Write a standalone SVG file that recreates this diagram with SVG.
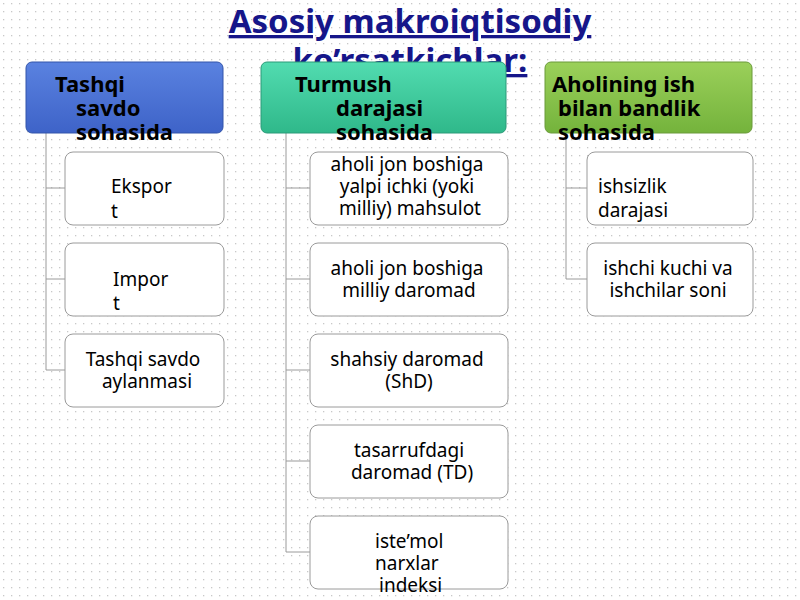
<svg xmlns="http://www.w3.org/2000/svg" width="800" height="600" viewBox="0 0 800 600">
<defs>
<pattern id="dots" width="8" height="8" patternUnits="userSpaceOnUse"><rect x="3" y="3" width="1.3" height="1.3" fill="#c8c8c8"/></pattern>
<linearGradient id="gb" x1="0" y1="0" x2="0" y2="1"><stop offset="0" stop-color="#5a82e0"/><stop offset="1" stop-color="#3e63c8"/></linearGradient>
<linearGradient id="gg" x1="0" y1="0" x2="0" y2="1"><stop offset="0" stop-color="#52dcb0"/><stop offset="1" stop-color="#2fb88a"/></linearGradient>
<linearGradient id="gl" x1="0" y1="0" x2="0" y2="1"><stop offset="0" stop-color="#9bd05a"/><stop offset="1" stop-color="#74b33c"/></linearGradient>
<style>
.hd{font-family:"Noto Sans","DejaVu Sans",sans-serif;font-weight:bold;font-size:22px;fill:#000}
.tx{font-family:"Noto Sans","DejaVu Sans",sans-serif;font-size:19px;fill:#000}
.bx{fill:#fff;stroke:#9a9a9a;stroke-width:1}
.cn{stroke:#9a9a9a;stroke-width:1;fill:none}
</style>
</defs>
<rect width="800" height="600" fill="#fff"/>
<rect width="800" height="600" fill="url(#dots)"/>
<g id="title" font-family="Noto Sans, DejaVu Sans, sans-serif" font-weight="bold" font-size="33" fill="#16168a" text-anchor="middle" text-decoration="underline">
<text x="410" y="33">Asosiy makroiqtisodiy</text>
<text x="410" y="72">ko’rsatkichlar:</text>
</g>
<g id="connectors" class="cn">
<path d="M46 133V370M46 188H65M46 279H65M46 370H65"/>
<path d="M286 133V552M286 188H310M286 279H310M286 370H310M286 461H310M286 552H310"/>
<path d="M566 133V279M566 188H587M566 279H587"/>
</g>
<g id="h1"><rect x="26" y="62" width="197" height="71" rx="6" fill="url(#gb)" stroke="#3355aa"/>
<text class="hd"><tspan x="55" y="92">Tashqi</tspan><tspan x="76" y="116">savdo</tspan><tspan x="76" y="140">sohasida</tspan></text></g>
<g id="h2"><rect x="261" y="62" width="245" height="71" rx="6" fill="url(#gg)" stroke="#2a9a78"/>
<text class="hd"><tspan x="295" y="92">Turmush</tspan><tspan x="336" y="116">darajasi</tspan><tspan x="336" y="140">sohasida</tspan></text></g>
<g id="h3"><rect x="545" y="62" width="207" height="71" rx="6" fill="url(#gl)" stroke="#6a9a3a"/>
<text class="hd"><tspan x="552" y="92">Aholining ish</tspan><tspan x="558" y="116">bilan  bandlik</tspan><tspan x="558" y="140">sohasida</tspan></text></g>
<g id="c1"><rect class="bx" x="65" y="152" width="159" height="73" rx="8"/><text class="tx"><tspan x="111" y="193">Ekspor</tspan><tspan x="111" y="218">t</tspan></text></g>
<g id="c2"><rect class="bx" x="65" y="243" width="159" height="73" rx="8"/><text class="tx"><tspan x="113" y="286">Impor</tspan><tspan x="113" y="310">t</tspan></text></g>
<g id="c3"><rect class="bx" x="65" y="334" width="159" height="73" rx="8"/><text class="tx" text-anchor="middle"><tspan x="143" y="366">Tashqi savdo</tspan><tspan x="147" y="388">aylanmasi</tspan></text></g>
<g id="m1"><rect class="bx" x="310" y="152" width="198" height="73" rx="8"/><text class="tx" text-anchor="middle"><tspan x="407" y="171">aholi jon boshiga</tspan><tspan x="407" y="193">yalpi ichki (yoki</tspan><tspan x="410" y="215">milliy) mahsulot</tspan></text></g>
<g id="m2"><rect class="bx" x="310" y="243" width="198" height="73" rx="8"/><text class="tx" text-anchor="middle"><tspan x="407" y="275">aholi jon boshiga</tspan><tspan x="409" y="297">milliy daromad</tspan></text></g>
<g id="m3"><rect class="bx" x="310" y="334" width="198" height="73" rx="8"/><text class="tx" text-anchor="middle"><tspan x="407" y="366">shahsiy daromad</tspan><tspan x="409" y="388">(ShD)</tspan></text></g>
<g id="m4"><rect class="bx" x="310" y="425" width="198" height="73" rx="8"/><text class="tx" text-anchor="middle"><tspan x="409" y="457">tasarrufdagi</tspan><tspan x="412" y="479">daromad (TD)</tspan></text></g>
<g id="m5"><rect class="bx" x="310" y="516" width="198" height="73" rx="8"/><text class="tx"><tspan x="375" y="548">iste’mol</tspan><tspan x="375" y="570">narxlar</tspan><tspan x="379" y="592">indeksi</tspan></text></g>
<g id="r1"><rect class="bx" x="587" y="152" width="166" height="73" rx="8"/><text class="tx"><tspan x="598" y="193">ishsizlik</tspan><tspan x="598" y="217">darajasi</tspan></text></g>
<g id="r2"><rect class="bx" x="587" y="243" width="166" height="73" rx="8"/><text class="tx" text-anchor="middle"><tspan x="668" y="275">ishchi kuchi va</tspan><tspan x="668" y="297">ishchilar soni</tspan></text></g>
</svg>
